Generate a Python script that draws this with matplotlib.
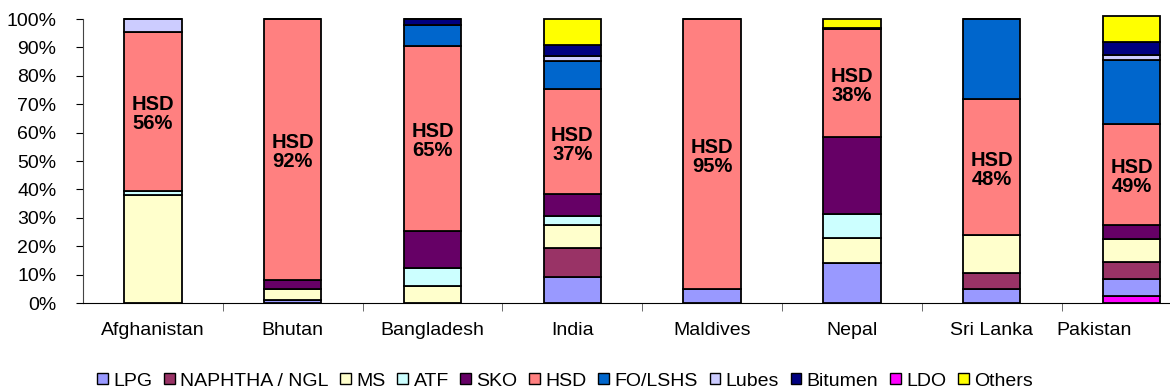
import matplotlib
matplotlib.use("Agg")
import matplotlib.pyplot as plt
import numpy as np
from matplotlib.patches import Patch

plt.rcParams['font.family'] = ['Liberation Sans', 'DejaVu Sans']

countries = ["Afghanistan", "Bhutan", "Bangladesh", "India", "Maldives",
             "Nepal", "Sri Lanka", "Pakistan"]

# product shares (%) per country, same order as `countries`
ldo      = [0,    0,   0,    0,    0,   0,    0,    2.5]
lpg      = [0,    1,   0,    9,    5,   14.2, 5,    6]
naphtha  = [0,    0,   0,    10.5, 0,   0,    5.5,  6]
ms       = [38,   4,   6,    8,    0,   8.6,  13.5, 8]
atf      = [1.5,  0,   6.5,  3.3,  0,   8.5,  0,    0]
sko      = [0,    3,   13,   7.5,  0,   27,   0,    5]
hsd      = [56,   92,  65,   37,   95,  38.2, 48,   35.5]
fo_lshs  = [0,    0,   7.5,  10,   0,   0,    28,   22.5]
lubes    = [4.5,  0,   0,    1.5,  0,   0,    0,    2]
bitumen  = [0,    0,   2,    4.2,  0,   0.5,  0,    4.5]
others   = [0,    0,   0,    9,    0,   3,    0,    9]

hsd_labels = ["56%", "92%", "65%", "37%", "95%", "38%", "48%", "49%"]

# stacking order (bottom to top)
stack = [
    ("LDO", ldo, "#FF00FF"),
    ("LPG", lpg, "#9999FF"),
    ("NAPHTHA / NGL", naphtha, "#993366"),
    ("MS", ms, "#FFFFCC"),
    ("ATF", atf, "#CCFFFF"),
    ("SKO", sko, "#660066"),
    ("HSD", hsd, "#FF8080"),
    ("FO/LSHS", fo_lshs, "#0066CC"),
    ("Lubes", lubes, "#CCCCFF"),
    ("Bitumen", bitumen, "#000080"),
    ("Others", others, "#FFFF00"),
]
legend_order = ["LPG", "NAPHTHA / NGL", "MS", "ATF", "SKO", "HSD",
                "FO/LSHS", "Lubes", "Bitumen", "LDO", "Others"]

fig = plt.figure(figsize=(11.7, 3.92), dpi=100)
ax = fig.add_axes([83 / 1170, 89 / 392, 1118.4 / 1170, 284 / 392])

x = np.arange(len(countries))
bottom = np.zeros(len(countries))
colors = {}
hsd_base = None
for name, vals, col in stack:
    v = np.array(vals, dtype=float)
    ax.bar(x, v, bottom=bottom, width=0.41, color=col, edgecolor="black",
           linewidth=1.3, zorder=2, clip_on=False)
    if name == "HSD":
        hsd_base = bottom.copy()
    bottom += v
    colors[name] = col

for i, lab in enumerate(hsd_labels):
    yc = hsd_base[i] + hsd[i] / 2 - 1
    ax.text(x[i], yc, "HSD\n" + lab, ha="center", va="center",
            fontsize=14.5, fontweight="bold", linespacing=1.0, zorder=3)

ax.set_xlim(-0.5, len(countries) - 0.5)
ax.set_ylim(0, 100)
ax.set_yticks(np.arange(0, 101, 10))
ax.set_yticklabels([f"{t}%" for t in range(0, 101, 10)], fontsize=14)
ax.set_xticks(x)
ax.set_xticklabels(countries, fontsize=14)
ax.get_xticklabels()[-1].set_horizontalalignment("right")
ax.set_xticks(np.arange(0.5, len(countries) - 0.5, 1), minor=True)
ax.tick_params(axis="x", which="major", length=0, pad=14)
ax.tick_params(axis="x", which="minor", length=6, direction="out", color="#555555")
ax.tick_params(axis="y", length=5, direction="out", pad=14)
for s in ("top", "right"):
    ax.spines[s].set_visible(False)
ax.spines["left"].set_color("#444444")
ax.spines["bottom"].set_color("black")

handles = [Patch(facecolor=colors[n], edgecolor="black", linewidth=1.0, label=n)
           for n in legend_order]
fig.legend(handles=handles, loc="center", bbox_to_anchor=(565 / 1170, 1 - 381 / 392),
           ncol=len(handles), frameon=False, prop={"size": 14},
           handlelength=0.55, handleheight=0.55, handletextpad=0.28, columnspacing=0.6)

fig.savefig("out.png", dpi=100)
